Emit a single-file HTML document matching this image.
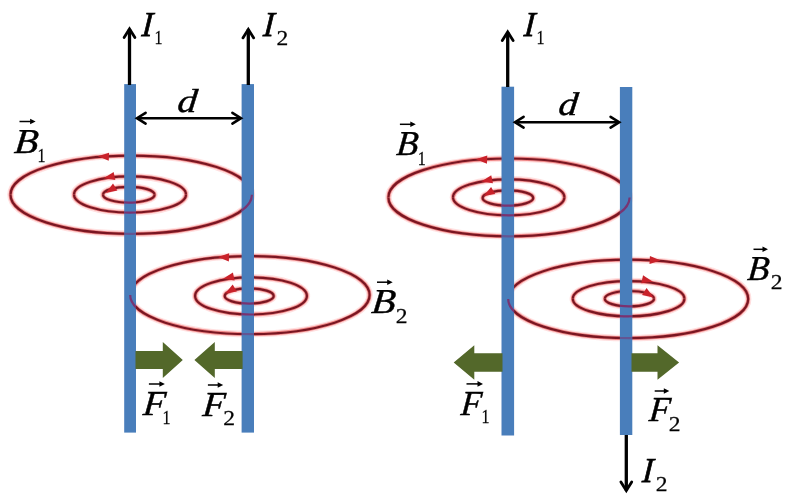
<!DOCTYPE html>
<html><head><meta charset="utf-8"><title>Parallel currents</title>
<style>html,body{margin:0;padding:0;background:#fff}svg{display:block}</style></head>
<body>
<svg width="792" height="502" viewBox="0 0 792 502">
<rect width="792" height="502" fill="#ffffff"/>
<defs><filter id="bl" x="-5%" y="-5%" width="110%" height="110%"><feGaussianBlur stdDeviation="0.45"/></filter>
<clipPath id="cw0"><rect x="124.2" y="84.1" width="11.8" height="348.5"/></clipPath>
<clipPath id="cw1"><rect x="241.6" y="84.1" width="12.4" height="348.5"/></clipPath>
<clipPath id="cw2"><rect x="501.5" y="86.7" width="12.6" height="348.8"/></clipPath>
<clipPath id="cw3"><rect x="619.9" y="87.0" width="12.4" height="348.0"/></clipPath>
</defs>
<g filter="url(#bl)">
<path d="M251.90,194.70 A120.70,39.10 0 0 0 10.50,194.70" fill="none" stroke="#ff6060" stroke-width="6.5" stroke-opacity="0.2" />
<path d="M251.90,194.70 A120.70,39.10 0 0 0 10.50,194.70" fill="none" stroke="#e03030" stroke-width="3.8" stroke-opacity="0.5" />
<path d="M251.90,194.70 A120.70,39.10 0 0 0 10.50,194.70" fill="none" stroke="#7a1822" stroke-width="2.2" />
<path d="M10.50,194.70 A120.70,39.10 0 0 0 251.90,194.70" fill="none" stroke="#ff6060" stroke-width="6.5" stroke-opacity="0.2" />
<path d="M10.50,194.70 A120.70,39.10 0 0 0 251.90,194.70" fill="none" stroke="#e03030" stroke-width="3.8" stroke-opacity="0.5" />
<path d="M10.50,194.70 A120.70,39.10 0 0 0 251.90,194.70" fill="none" stroke="#7a1822" stroke-width="2.2" />
<path d="M186.00,194.50 A56.00,18.10 0 0 0 74.00,194.50" fill="none" stroke="#ff6060" stroke-width="6.5" stroke-opacity="0.2" />
<path d="M186.00,194.50 A56.00,18.10 0 0 0 74.00,194.50" fill="none" stroke="#e03030" stroke-width="3.8" stroke-opacity="0.5" />
<path d="M186.00,194.50 A56.00,18.10 0 0 0 74.00,194.50" fill="none" stroke="#7a1822" stroke-width="2.2" />
<path d="M74.00,194.50 A56.00,18.10 0 0 0 186.00,194.50" fill="none" stroke="#ff6060" stroke-width="6.5" stroke-opacity="0.2" />
<path d="M74.00,194.50 A56.00,18.10 0 0 0 186.00,194.50" fill="none" stroke="#e03030" stroke-width="3.8" stroke-opacity="0.5" />
<path d="M74.00,194.50 A56.00,18.10 0 0 0 186.00,194.50" fill="none" stroke="#7a1822" stroke-width="2.2" />
<path d="M154.60,194.70 A25.80,7.90 0 0 0 103.00,194.70" fill="none" stroke="#ff6060" stroke-width="6.5" stroke-opacity="0.2" />
<path d="M154.60,194.70 A25.80,7.90 0 0 0 103.00,194.70" fill="none" stroke="#e03030" stroke-width="3.8" stroke-opacity="0.5" />
<path d="M154.60,194.70 A25.80,7.90 0 0 0 103.00,194.70" fill="none" stroke="#7a1822" stroke-width="2.2" />
<path d="M103.00,194.70 A25.80,7.90 0 0 0 154.60,194.70" fill="none" stroke="#ff6060" stroke-width="6.5" stroke-opacity="0.2" />
<path d="M103.00,194.70 A25.80,7.90 0 0 0 154.60,194.70" fill="none" stroke="#e03030" stroke-width="3.8" stroke-opacity="0.5" />
<path d="M103.00,194.70 A25.80,7.90 0 0 0 154.60,194.70" fill="none" stroke="#7a1822" stroke-width="2.2" />
<path d="M369.60,295.10 A119.70,39.00 0 0 0 130.20,295.10" fill="none" stroke="#ff6060" stroke-width="6.5" stroke-opacity="0.2" />
<path d="M369.60,295.10 A119.70,39.00 0 0 0 130.20,295.10" fill="none" stroke="#e03030" stroke-width="3.8" stroke-opacity="0.5" />
<path d="M369.60,295.10 A119.70,39.00 0 0 0 130.20,295.10" fill="none" stroke="#7a1822" stroke-width="2.2" />
<path d="M130.20,295.10 A119.70,39.00 0 0 0 369.60,295.10" fill="none" stroke="#ff6060" stroke-width="6.5" stroke-opacity="0.2" />
<path d="M130.20,295.10 A119.70,39.00 0 0 0 369.60,295.10" fill="none" stroke="#e03030" stroke-width="3.8" stroke-opacity="0.5" />
<path d="M130.20,295.10 A119.70,39.00 0 0 0 369.60,295.10" fill="none" stroke="#7a1822" stroke-width="2.2" />
<path d="M306.90,295.90 A55.90,18.60 0 0 0 195.10,295.90" fill="none" stroke="#ff6060" stroke-width="6.5" stroke-opacity="0.2" />
<path d="M306.90,295.90 A55.90,18.60 0 0 0 195.10,295.90" fill="none" stroke="#e03030" stroke-width="3.8" stroke-opacity="0.5" />
<path d="M306.90,295.90 A55.90,18.60 0 0 0 195.10,295.90" fill="none" stroke="#7a1822" stroke-width="2.2" />
<path d="M195.10,295.90 A55.90,18.60 0 0 0 306.90,295.90" fill="none" stroke="#ff6060" stroke-width="6.5" stroke-opacity="0.2" />
<path d="M195.10,295.90 A55.90,18.60 0 0 0 306.90,295.90" fill="none" stroke="#e03030" stroke-width="3.8" stroke-opacity="0.5" />
<path d="M195.10,295.90 A55.90,18.60 0 0 0 306.90,295.90" fill="none" stroke="#7a1822" stroke-width="2.2" />
<path d="M273.70,296.00 A24.50,7.60 0 0 0 224.70,296.00" fill="none" stroke="#ff6060" stroke-width="6.5" stroke-opacity="0.2" />
<path d="M273.70,296.00 A24.50,7.60 0 0 0 224.70,296.00" fill="none" stroke="#e03030" stroke-width="3.8" stroke-opacity="0.5" />
<path d="M273.70,296.00 A24.50,7.60 0 0 0 224.70,296.00" fill="none" stroke="#7a1822" stroke-width="2.2" />
<path d="M224.70,296.00 A24.50,7.60 0 0 0 273.70,296.00" fill="none" stroke="#ff6060" stroke-width="6.5" stroke-opacity="0.2" />
<path d="M224.70,296.00 A24.50,7.60 0 0 0 273.70,296.00" fill="none" stroke="#e03030" stroke-width="3.8" stroke-opacity="0.5" />
<path d="M224.70,296.00 A24.50,7.60 0 0 0 273.70,296.00" fill="none" stroke="#7a1822" stroke-width="2.2" />
<path d="M629.60,197.40 A120.60,38.90 0 0 0 388.40,197.40" fill="none" stroke="#ff6060" stroke-width="6.5" stroke-opacity="0.2" />
<path d="M629.60,197.40 A120.60,38.90 0 0 0 388.40,197.40" fill="none" stroke="#e03030" stroke-width="3.8" stroke-opacity="0.5" />
<path d="M629.60,197.40 A120.60,38.90 0 0 0 388.40,197.40" fill="none" stroke="#7a1822" stroke-width="2.2" />
<path d="M388.40,197.40 A120.60,38.90 0 0 0 629.60,197.40" fill="none" stroke="#ff6060" stroke-width="6.5" stroke-opacity="0.2" />
<path d="M388.40,197.40 A120.60,38.90 0 0 0 629.60,197.40" fill="none" stroke="#e03030" stroke-width="3.8" stroke-opacity="0.5" />
<path d="M388.40,197.40 A120.60,38.90 0 0 0 629.60,197.40" fill="none" stroke="#7a1822" stroke-width="2.2" />
<path d="M564.40,197.30 A55.70,18.00 0 0 0 453.00,197.30" fill="none" stroke="#ff6060" stroke-width="6.5" stroke-opacity="0.2" />
<path d="M564.40,197.30 A55.70,18.00 0 0 0 453.00,197.30" fill="none" stroke="#e03030" stroke-width="3.8" stroke-opacity="0.5" />
<path d="M564.40,197.30 A55.70,18.00 0 0 0 453.00,197.30" fill="none" stroke="#7a1822" stroke-width="2.2" />
<path d="M453.00,197.30 A55.70,18.00 0 0 0 564.40,197.30" fill="none" stroke="#ff6060" stroke-width="6.5" stroke-opacity="0.2" />
<path d="M453.00,197.30 A55.70,18.00 0 0 0 564.40,197.30" fill="none" stroke="#e03030" stroke-width="3.8" stroke-opacity="0.5" />
<path d="M453.00,197.30 A55.70,18.00 0 0 0 564.40,197.30" fill="none" stroke="#7a1822" stroke-width="2.2" />
<path d="M533.20,198.00 A25.30,7.60 0 0 0 482.60,198.00" fill="none" stroke="#ff6060" stroke-width="6.5" stroke-opacity="0.2" />
<path d="M533.20,198.00 A25.30,7.60 0 0 0 482.60,198.00" fill="none" stroke="#e03030" stroke-width="3.8" stroke-opacity="0.5" />
<path d="M533.20,198.00 A25.30,7.60 0 0 0 482.60,198.00" fill="none" stroke="#7a1822" stroke-width="2.2" />
<path d="M482.60,198.00 A25.30,7.60 0 0 0 533.20,198.00" fill="none" stroke="#ff6060" stroke-width="6.5" stroke-opacity="0.2" />
<path d="M482.60,198.00 A25.30,7.60 0 0 0 533.20,198.00" fill="none" stroke="#e03030" stroke-width="3.8" stroke-opacity="0.5" />
<path d="M482.60,198.00 A25.30,7.60 0 0 0 533.20,198.00" fill="none" stroke="#7a1822" stroke-width="2.2" />
<path d="M748.20,298.90 A120.00,39.20 0 0 0 508.20,298.90" fill="none" stroke="#ff6060" stroke-width="6.5" stroke-opacity="0.2" />
<path d="M748.20,298.90 A120.00,39.20 0 0 0 508.20,298.90" fill="none" stroke="#e03030" stroke-width="3.8" stroke-opacity="0.5" />
<path d="M748.20,298.90 A120.00,39.20 0 0 0 508.20,298.90" fill="none" stroke="#7a1822" stroke-width="2.2" />
<path d="M508.20,298.90 A120.00,39.20 0 0 0 748.20,298.90" fill="none" stroke="#ff6060" stroke-width="6.5" stroke-opacity="0.2" />
<path d="M508.20,298.90 A120.00,39.20 0 0 0 748.20,298.90" fill="none" stroke="#e03030" stroke-width="3.8" stroke-opacity="0.5" />
<path d="M508.20,298.90 A120.00,39.20 0 0 0 748.20,298.90" fill="none" stroke="#7a1822" stroke-width="2.2" />
<path d="M684.40,298.70 A55.80,17.60 0 0 0 572.80,298.70" fill="none" stroke="#ff6060" stroke-width="6.5" stroke-opacity="0.2" />
<path d="M684.40,298.70 A55.80,17.60 0 0 0 572.80,298.70" fill="none" stroke="#e03030" stroke-width="3.8" stroke-opacity="0.5" />
<path d="M684.40,298.70 A55.80,17.60 0 0 0 572.80,298.70" fill="none" stroke="#7a1822" stroke-width="2.2" />
<path d="M572.80,298.70 A55.80,17.60 0 0 0 684.40,298.70" fill="none" stroke="#ff6060" stroke-width="6.5" stroke-opacity="0.2" />
<path d="M572.80,298.70 A55.80,17.60 0 0 0 684.40,298.70" fill="none" stroke="#e03030" stroke-width="3.8" stroke-opacity="0.5" />
<path d="M572.80,298.70 A55.80,17.60 0 0 0 684.40,298.70" fill="none" stroke="#7a1822" stroke-width="2.2" />
<path d="M654.00,298.70 A24.60,7.70 0 0 0 604.80,298.70" fill="none" stroke="#ff6060" stroke-width="6.5" stroke-opacity="0.2" />
<path d="M654.00,298.70 A24.60,7.70 0 0 0 604.80,298.70" fill="none" stroke="#e03030" stroke-width="3.8" stroke-opacity="0.5" />
<path d="M654.00,298.70 A24.60,7.70 0 0 0 604.80,298.70" fill="none" stroke="#7a1822" stroke-width="2.2" />
<path d="M604.80,298.70 A24.60,7.70 0 0 0 654.00,298.70" fill="none" stroke="#ff6060" stroke-width="6.5" stroke-opacity="0.2" />
<path d="M604.80,298.70 A24.60,7.70 0 0 0 654.00,298.70" fill="none" stroke="#e03030" stroke-width="3.8" stroke-opacity="0.5" />
<path d="M604.80,298.70 A24.60,7.70 0 0 0 654.00,298.70" fill="none" stroke="#7a1822" stroke-width="2.2" />
<rect x="124.2" y="84.1" width="11.8" height="348.5" fill="#4a7ebb"/>
<rect x="241.6" y="84.1" width="12.4" height="348.5" fill="#4a7ebb"/>
<rect x="501.5" y="86.7" width="12.6" height="348.8" fill="#4a7ebb"/>
<rect x="619.9" y="87.0" width="12.4" height="348.0" fill="#4a7ebb"/>
<path d="M10.50,194.70 A120.70,39.10 0 0 0 251.90,194.70" fill="none" stroke="#7c2c6c" stroke-width="2.2" stroke-opacity="0.5" clip-path="url(#cw0)"/>
<path d="M74.00,194.50 A56.00,18.10 0 0 0 186.00,194.50" fill="none" stroke="#7c2c6c" stroke-width="2.2" stroke-opacity="0.95" clip-path="url(#cw0)"/>
<path d="M103.00,194.70 A25.80,7.90 0 0 0 154.60,194.70" fill="none" stroke="#7c2c6c" stroke-width="2.2" stroke-opacity="0.95" clip-path="url(#cw0)"/>
<path d="M10.50,194.70 A120.70,39.10 0 0 0 251.90,194.70" fill="none" stroke="#7c2c6c" stroke-width="2.2" stroke-opacity="0.9" clip-path="url(#cw1)"/>
<path d="M130.20,295.10 A119.70,39.00 0 0 0 369.60,295.10" fill="none" stroke="#7c2c6c" stroke-width="2.2" stroke-opacity="0.5" clip-path="url(#cw1)"/>
<path d="M195.10,295.90 A55.90,18.60 0 0 0 306.90,295.90" fill="none" stroke="#7c2c6c" stroke-width="2.2" stroke-opacity="0.95" clip-path="url(#cw1)"/>
<path d="M224.70,296.00 A24.50,7.60 0 0 0 273.70,296.00" fill="none" stroke="#7c2c6c" stroke-width="2.2" stroke-opacity="0.95" clip-path="url(#cw1)"/>
<path d="M130.20,295.10 A119.70,39.00 0 0 0 369.60,295.10" fill="none" stroke="#7c2c6c" stroke-width="2.2" stroke-opacity="0.9" clip-path="url(#cw0)"/>
<path d="M388.40,197.40 A120.60,38.90 0 0 0 629.60,197.40" fill="none" stroke="#7c2c6c" stroke-width="2.2" stroke-opacity="0.5" clip-path="url(#cw2)"/>
<path d="M453.00,197.30 A55.70,18.00 0 0 0 564.40,197.30" fill="none" stroke="#7c2c6c" stroke-width="2.2" stroke-opacity="0.95" clip-path="url(#cw2)"/>
<path d="M482.60,198.00 A25.30,7.60 0 0 0 533.20,198.00" fill="none" stroke="#7c2c6c" stroke-width="2.2" stroke-opacity="0.95" clip-path="url(#cw2)"/>
<path d="M388.40,197.40 A120.60,38.90 0 0 0 629.60,197.40" fill="none" stroke="#7c2c6c" stroke-width="2.2" stroke-opacity="0.9" clip-path="url(#cw3)"/>
<path d="M508.20,298.90 A120.00,39.20 0 0 0 748.20,298.90" fill="none" stroke="#7c2c6c" stroke-width="2.2" stroke-opacity="0.5" clip-path="url(#cw3)"/>
<path d="M572.80,298.70 A55.80,17.60 0 0 0 684.40,298.70" fill="none" stroke="#7c2c6c" stroke-width="2.2" stroke-opacity="0.95" clip-path="url(#cw3)"/>
<path d="M604.80,298.70 A24.60,7.70 0 0 0 654.00,298.70" fill="none" stroke="#7c2c6c" stroke-width="2.2" stroke-opacity="0.95" clip-path="url(#cw3)"/>
<path d="M508.20,298.90 A120.00,39.20 0 0 0 748.20,298.90" fill="none" stroke="#7c2c6c" stroke-width="2.2" stroke-opacity="0.9" clip-path="url(#cw2)"/>
<polygon points="97.90,156.37 109.04,152.65 108.75,160.85" fill="#c9202a"/>
<polygon points="103.72,178.19 113.63,171.89 115.33,179.91" fill="#c9202a"/>
<polygon points="105.84,192.88 112.99,183.57 117.34,190.52" fill="#c9202a"/>
<polygon points="218.00,256.97 229.14,253.25 228.85,261.45" fill="#c9202a"/>
<polygon points="223.02,278.69 232.93,272.39 234.63,280.41" fill="#c9202a"/>
<polygon points="225.22,293.45 232.70,284.40 236.80,291.50" fill="#c9202a"/>
<polygon points="476.10,159.17 487.24,155.45 486.95,163.65" fill="#c9202a"/>
<polygon points="481.32,181.49 491.23,175.19 492.93,183.21" fill="#c9202a"/>
<polygon points="483.62,196.05 491.10,187.00 495.20,194.10" fill="#c9202a"/>
<polygon points="660.70,260.55 649.50,264.07 649.93,255.88" fill="#c9202a"/>
<polygon points="652.88,281.80 641.24,283.32 643.08,275.33" fill="#c9202a"/>
<polygon points="653.55,297.49 642.10,294.94 646.56,288.06" fill="#c9202a"/>
<polygon points="135.50,351.10 162.80,351.10 162.80,342.10 182.80,360.00 162.80,377.90 162.80,368.90 135.50,368.90" fill="#52672a"/>
<polygon points="242.60,351.10 214.80,351.10 214.80,342.10 194.40,360.00 214.80,377.90 214.80,368.90 242.60,368.90" fill="#52672a"/>
<polygon points="502.50,353.20 474.30,353.20 474.30,345.30 453.70,362.50 474.30,379.70 474.30,371.80 502.50,371.80" fill="#52672a"/>
<polygon points="631.50,353.20 657.50,353.20 657.50,345.30 679.10,362.50 657.50,379.70 657.50,371.80 631.50,371.80" fill="#52672a"/>
<line x1="129.5" y1="85" x2="129.5" y2="29.0" stroke="#000" stroke-width="3.3"/>
<polyline points="134.90,37.60 129.50,29.00 124.10,37.60" fill="none" stroke="#000" stroke-width="2.8" stroke-linejoin="miter" stroke-linecap="round"/>
<line x1="248.3" y1="85" x2="248.3" y2="29.3" stroke="#000" stroke-width="3.3"/>
<polyline points="253.70,37.90 248.30,29.30 242.90,37.90" fill="none" stroke="#000" stroke-width="2.8" stroke-linejoin="miter" stroke-linecap="round"/>
<line x1="507.7" y1="87" x2="507.7" y2="32.0" stroke="#000" stroke-width="3.3"/>
<polyline points="513.10,40.60 507.70,32.00 502.30,40.60" fill="none" stroke="#000" stroke-width="2.8" stroke-linejoin="miter" stroke-linecap="round"/>
<line x1="626.3" y1="435" x2="626.3" y2="490.5" stroke="#000" stroke-width="3.3"/>
<polyline points="620.90,481.90 626.30,490.50 631.70,481.90" fill="none" stroke="#000" stroke-width="2.8" stroke-linejoin="miter" stroke-linecap="round"/>
<line x1="137.0" y1="118.2" x2="241.0" y2="118.2" stroke="#000" stroke-width="2.6"/>
<polyline points="232.40,123.60 241.00,118.20 232.40,112.80" fill="none" stroke="#000" stroke-width="2.6" stroke-linejoin="miter" stroke-linecap="round"/>
<polyline points="145.60,112.80 137.00,118.20 145.60,123.60" fill="none" stroke="#000" stroke-width="2.6" stroke-linejoin="miter" stroke-linecap="round"/>
<line x1="515.0" y1="122.2" x2="619.2" y2="122.2" stroke="#000" stroke-width="2.6"/>
<polyline points="610.60,127.60 619.20,122.20 610.60,116.80" fill="none" stroke="#000" stroke-width="2.6" stroke-linejoin="miter" stroke-linecap="round"/>
<polyline points="523.60,116.80 515.00,122.20 523.60,127.60" fill="none" stroke="#000" stroke-width="2.6" stroke-linejoin="miter" stroke-linecap="round"/>
</g>
<g filter="url(#bl)">
<text transform="translate(141.13,36.10) scale(0.92,1) skewX(-5)" font-family="'Liberation Serif', serif" font-style="italic" font-size="35.0" fill="#000" stroke="#000" stroke-width="0.75">I</text>
<text transform="translate(154.39,44.00) scale(0.82,1)" font-family="'Liberation Serif', serif" font-size="19.5" fill="#000" stroke="#000" stroke-width="0.25">1</text>
<text transform="translate(262.83,36.10) scale(0.92,1) skewX(-5)" font-family="'Liberation Serif', serif" font-style="italic" font-size="35.0" fill="#000" stroke="#000" stroke-width="0.75">I</text>
<text transform="translate(276.50,44.50) scale(1.16,1)" font-family="'Liberation Serif', serif" font-size="20.3" fill="#000" stroke="#000" stroke-width="0.25">2</text>
<text transform="translate(176.83,111.80) scale(1.176,1) skewX(-5)" font-family="'Liberation Serif', serif" font-style="italic" font-size="33.2" fill="#000" stroke="#000" stroke-width="0.45">d</text>
<text transform="translate(13.55,152.50) scale(1.12,1) skewX(-5)" font-family="'Liberation Serif', serif" font-style="italic" font-size="35.0" fill="#000" stroke="#000" stroke-width="0.42">B</text>
<text transform="translate(37.59,161.50) scale(0.82,1)" font-family="'Liberation Serif', serif" font-size="19.5" fill="#000" stroke="#000" stroke-width="0.25">1</text>
<line x1="19.5" y1="121.5" x2="32.6" y2="121.5" stroke="#000" stroke-width="1.5"/>
<polygon points="35.6,121.5 30.1,118.7 30.1,124.3" fill="#000"/>
<text transform="translate(370.65,312.60) scale(1.12,1) skewX(-5)" font-family="'Liberation Serif', serif" font-style="italic" font-size="35.0" fill="#000" stroke="#000" stroke-width="0.42">B</text>
<text transform="translate(395.80,322.70) scale(1.16,1)" font-family="'Liberation Serif', serif" font-size="20.3" fill="#000" stroke="#000" stroke-width="0.25">2</text>
<line x1="377.0" y1="282.2" x2="389.7" y2="282.2" stroke="#000" stroke-width="1.5"/>
<polygon points="392.7,282.2 387.2,279.4 387.2,285.0" fill="#000"/>
<text transform="translate(142.38,415.00) scale(1.04,1) skewX(-5)" font-family="'Liberation Serif', serif" font-style="italic" font-size="35.0" fill="#000" stroke="#000" stroke-width="0.5">F</text>
<text transform="translate(162.39,423.60) scale(0.82,1)" font-family="'Liberation Serif', serif" font-size="19.5" fill="#000" stroke="#000" stroke-width="0.25">1</text>
<line x1="148.9" y1="384.0" x2="161.9" y2="384.0" stroke="#000" stroke-width="1.5"/>
<polygon points="164.9,384.0 159.4,381.2 159.4,386.8" fill="#000"/>
<text transform="translate(202.08,415.60) scale(1.04,1) skewX(-5)" font-family="'Liberation Serif', serif" font-style="italic" font-size="35.0" fill="#000" stroke="#000" stroke-width="0.5">F</text>
<text transform="translate(223.20,425.00) scale(1.16,1)" font-family="'Liberation Serif', serif" font-size="20.3" fill="#000" stroke="#000" stroke-width="0.25">2</text>
<line x1="207.9" y1="385.0" x2="220.2" y2="385.0" stroke="#000" stroke-width="1.5"/>
<polygon points="223.2,385.0 217.7,382.2 217.7,387.8" fill="#000"/>
<text transform="translate(523.43,36.10) scale(0.92,1) skewX(-5)" font-family="'Liberation Serif', serif" font-style="italic" font-size="35.0" fill="#000" stroke="#000" stroke-width="0.75">I</text>
<text transform="translate(536.59,44.30) scale(0.82,1)" font-family="'Liberation Serif', serif" font-size="19.5" fill="#000" stroke="#000" stroke-width="0.25">1</text>
<text transform="translate(557.64,115.40) scale(1.176,1) skewX(-5)" font-family="'Liberation Serif', serif" font-style="italic" font-size="32.8" fill="#000" stroke="#000" stroke-width="0.45">d</text>
<text transform="translate(395.68,154.80) scale(1.019,1) skewX(-5)" font-family="'Liberation Serif', serif" font-style="italic" font-size="35.0" fill="#000" stroke="#000" stroke-width="0.42">B</text>
<text transform="translate(417.79,164.80) scale(0.82,1)" font-family="'Liberation Serif', serif" font-size="19.5" fill="#000" stroke="#000" stroke-width="0.25">1</text>
<line x1="399.9" y1="124.3" x2="412.8" y2="124.3" stroke="#000" stroke-width="1.5"/>
<polygon points="415.8,124.3 410.3,121.5 410.3,127.1" fill="#000"/>
<text transform="translate(746.68,279.80) scale(1.019,1) skewX(-5)" font-family="'Liberation Serif', serif" font-style="italic" font-size="35.0" fill="#000" stroke="#000" stroke-width="0.42">B</text>
<text transform="translate(770.80,289.20) scale(1.16,1)" font-family="'Liberation Serif', serif" font-size="20.3" fill="#000" stroke="#000" stroke-width="0.25">2</text>
<line x1="753.5" y1="249.3" x2="765.0" y2="249.3" stroke="#000" stroke-width="1.5"/>
<polygon points="768.0,249.3 762.5,246.5 762.5,252.10000000000002" fill="#000"/>
<text transform="translate(460.17,415.00) scale(0.967,1) skewX(-5)" font-family="'Liberation Serif', serif" font-style="italic" font-size="35.0" fill="#000" stroke="#000" stroke-width="0.5">F</text>
<text transform="translate(481.59,423.20) scale(0.82,1)" font-family="'Liberation Serif', serif" font-size="19.5" fill="#000" stroke="#000" stroke-width="0.25">1</text>
<line x1="466.5" y1="383.9" x2="480.0" y2="383.9" stroke="#000" stroke-width="1.5"/>
<polygon points="483.0,383.9 477.5,381.09999999999997 477.5,386.7" fill="#000"/>
<text transform="translate(648.57,421.40) scale(0.988,1) skewX(-5)" font-family="'Liberation Serif', serif" font-style="italic" font-size="35.0" fill="#000" stroke="#000" stroke-width="0.5">F</text>
<text transform="translate(668.80,430.60) scale(1.16,1)" font-family="'Liberation Serif', serif" font-size="20.3" fill="#000" stroke="#000" stroke-width="0.25">2</text>
<line x1="654.7" y1="391.0" x2="666.3" y2="391.0" stroke="#000" stroke-width="1.5"/>
<polygon points="669.3,391.0 663.8,388.2 663.8,393.8" fill="#000"/>
<text transform="translate(641.63,482.20) scale(0.92,1) skewX(-5)" font-family="'Liberation Serif', serif" font-style="italic" font-size="35.0" fill="#000" stroke="#000" stroke-width="0.75">I</text>
<text transform="translate(655.80,490.70) scale(1.16,1)" font-family="'Liberation Serif', serif" font-size="20.3" fill="#000" stroke="#000" stroke-width="0.25">2</text>
</g>
</svg>
</body></html>
